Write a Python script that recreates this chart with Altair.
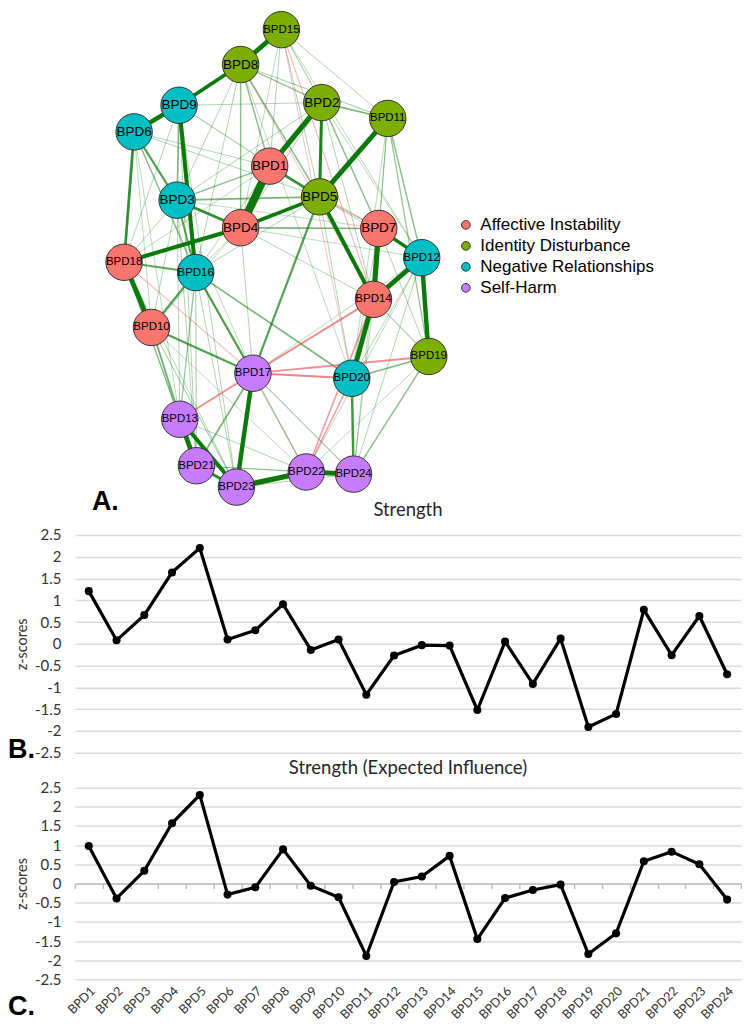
import altair as alt
import pandas as pd

# ---------------- data ----------------
nodes = ["BPD1", "BPD2", "BPD3", "BPD4", "BPD5", "BPD6", "BPD7", "BPD8",
         "BPD9", "BPD10", "BPD11", "BPD12", "BPD13", "BPD14", "BPD15", "BPD16",
         "BPD17", "BPD18", "BPD19", "BPD20", "BPD21", "BPD22", "BPD23", "BPD24"]

group_names = ["Affective Instability", "Identity Disturbance",
               "Negative Relationships", "Self-Harm"]
group_colors = ["#F8766D", "#7CAE00", "#00BFC4", "#C77CFF"]

node_group = ["Affective Instability", "Identity Disturbance", "Negative Relationships",
              "Affective Instability", "Identity Disturbance", "Negative Relationships",
              "Affective Instability", "Identity Disturbance", "Negative Relationships",
              "Affective Instability", "Identity Disturbance", "Negative Relationships",
              "Self-Harm", "Affective Instability", "Identity Disturbance",
              "Negative Relationships", "Self-Harm", "Affective Instability",
              "Identity Disturbance", "Negative Relationships", "Self-Harm",
              "Self-Harm", "Self-Harm", "Self-Harm"]

# network layout coordinates (qgraph-style, roughly -1..1)
layout_x = [-0.073, 0.275, -0.691, -0.267, 0.260, -0.978, 0.655, -0.267,
            -0.678, -0.862, 0.715, 0.942, -0.673, 0.620, 0.005, -0.567,
            -0.185, -1.045, 0.989, 0.475, -0.562, 0.171, -0.295, 0.487]
layout_y = [0.343, 0.608, 0.201, 0.086, 0.215, 0.486, 0.083, 0.767,
            0.597, -0.330, 0.542, -0.039, -0.713, -0.213, 0.9125, -0.101,
            -0.521, -0.058, -0.451, -0.542, -0.907, -0.933, -0.996, -0.942]

# edges (node numbers) and partial-correlation weights
edge_from = [1, 1, 8, 6, 8, 5, 4, 5, 7, 12, 12, 14, 9, 4, 10, 13, 13, 22, 22, 17, 7,
             2, 6, 3, 3, 16, 10, 16, 10, 5, 3, 4, 2, 1, 3, 21, 20, 19, 16, 19,
             1, 5, 4, 3, 6, 1, 2, 11, 11, 17, 10, 10, 13, 17, 17, 2,
             17, 14, 13, 17, 20, 14, 14, 15, 17, 8, 16, 5,
             6, 6, 9, 9, 3, 3, 15, 15, 15, 15, 15, 15, 8, 8, 8, 8, 2, 2, 2, 11,
             11, 11, 1, 1, 1, 4, 4, 4, 4, 5, 5, 5, 7, 7, 12, 12, 14, 14, 18, 18,
             18, 18, 18, 16, 16, 10, 10, 13, 21, 21, 23, 3, 3, 6, 9, 9, 17, 17,
             17, 10, 6, 19, 12, 7]
edge_to = [4, 2, 15, 9, 9, 11, 5, 14, 14, 14, 19, 20, 16, 18, 18, 21, 23, 23, 24, 23, 12,
           5, 18, 4, 6, 18, 16, 17, 17, 17, 5, 7, 11, 5, 16, 23, 24, 24, 20, 20,
           8, 8, 8, 9, 16, 3, 7, 12, 19, 21, 13, 21, 16, 22, 24, 8,
           20, 17, 17, 19, 22, 22, 15, 20, 18, 14, 22, 7,
           5, 1, 5, 2, 2, 7, 2, 5, 11, 4, 1, 12, 11, 3, 16, 20, 4, 14, 12, 7,
           14, 20, 7, 16, 18, 16, 10, 14, 12, 12, 20, 16, 20, 19, 20, 24, 19, 24, 3, 9,
           13, 21, 23, 21, 23, 23, 22, 22, 22, 24, 24, 21, 13, 13, 21, 23, 4, 3,
           12, 3, 10, 22, 22, 24]
edge_weight = [0.95, 0.60, 0.55, 0.50, 0.40, 0.55, 0.40, 0.45, 0.60, 0.55, 0.50, 0.55,
               0.45, 0.45, 0.55, 0.55, 0.45, 0.60, 0.55, 0.50, 0.35,
               0.32, 0.28, 0.28, 0.22, 0.20, 0.22, 0.22, 0.22, 0.22, 0.15, 0.15, 0.15,
               0.25, 0.20, 0.30, 0.25, 0.12, 0.15, 0.14,
               0.12, 0.13, 0.12, 0.15, 0.12, 0.12, 0.12, 0.12, 0.10, 0.15, 0.12, 0.10,
               0.10, 0.10, 0.08, 0.10,
               -0.20, -0.18, -0.18, -0.18, -0.14, -0.14, -0.08, -0.06, -0.07, -0.06,
               -0.05, -0.10,
               0.06, 0.06, 0.07, 0.06, 0.06, 0.05, 0.07, 0.06, 0.06, 0.05, 0.06, 0.05,
               0.07, 0.06, 0.06, 0.05, 0.06, 0.06, 0.05, 0.06,
               0.06, 0.05, 0.06, 0.06, 0.05, 0.06, 0.05, 0.06, 0.05, 0.06, 0.06, 0.06,
               0.05, 0.06, 0.06, 0.06, 0.07, 0.06, 0.06, 0.06,
               0.07, 0.07, 0.06, 0.07, 0.06, 0.07, 0.05, 0.06, 0.06, 0.05, 0.06, 0.06,
               0.06, 0.05, 0.06, 0.06, 0.06, 0.05,
               0.05, 0.06, 0.05, 0.05, 0.05, 0.05]

strength = [1.21, 0.08, 0.66, 1.64, 2.20, 0.10, 0.31, 0.91, -0.14, 0.10, -1.17, -0.27,
            -0.03, -0.04, -1.52, 0.05, -0.92, 0.12, -1.91, -1.61, 0.78, -0.26, 0.64, -0.70]
expected_influence = [0.98, -0.39, 0.33, 1.57, 2.31, -0.29, -0.10, 0.89, -0.06, -0.36,
                      -1.89, 0.04, 0.18, 0.72, -1.45, -0.38, -0.17, -0.03, -1.84, -1.30,
                      0.58, 0.83, 0.50, -0.42]

y_ticks = [-2.5, -2, -1.5, -1, -0.5, 0, 0.5, 1, 1.5, 2, 2.5]

# ---------------- tables ----------------
df_nodes = pd.DataFrame({"node": nodes, "group": node_group,
                         "lx": layout_x, "ly": layout_y})
df_edges = pd.DataFrame({"a": edge_from, "b": edge_to, "w": edge_weight})
df_edges["x1"] = [layout_x[i - 1] for i in df_edges["a"]]
df_edges["y1"] = [layout_y[i - 1] for i in df_edges["a"]]
df_edges["x2"] = [layout_x[i - 1] for i in df_edges["b"]]
df_edges["y2"] = [layout_y[i - 1] for i in df_edges["b"]]
df_edges["aw"] = df_edges["w"].abs()
df_edges["sign"] = ["pos" if v > 0 else "neg" for v in df_edges["w"]]
df_edges = df_edges.sort_values("aw").reset_index(drop=True)

df_str = pd.DataFrame({"node": nodes, "value": strength})
df_ei = pd.DataFrame({"node": nodes, "value": expected_influence})

PW = 667
NET_H = 491
STR_H = 218
EI_H = 192

# ---------------- network ----------------
xs = alt.Scale(domain=[-1.3733, 3.0733], nice=False, zero=False)
ys = alt.Scale(domain=[-1.05, 0.9958], nice=False, zero=False)

edges = alt.Chart(df_edges).mark_rule(strokeCap="butt").encode(
    x=alt.X("x1:Q", scale=xs, axis=None),
    y=alt.Y("y1:Q", scale=ys, axis=None),
    x2="x2:Q",
    y2="y2:Q",
    size=alt.Size("aw:Q", scale=alt.Scale(domain=[0.04, 0.95], range=[0.8, 8]), legend=None),
    color=alt.Color("sign:N", scale=alt.Scale(domain=["pos", "neg"],
                                              range=["#0b7a0b", "#e04848"]), legend=None),
    opacity=alt.Opacity("aw:Q", scale=alt.Scale(domain=[0.04, 0.35], range=[0.3, 1], clamp=True),
                        legend=None),
    order=alt.Order("aw:Q"),
)

node_marks = alt.Chart(df_nodes).mark_circle(size=1330, opacity=1, stroke="#333333",
                                             strokeWidth=1).encode(
    x=alt.X("lx:Q", scale=xs, axis=None),
    y=alt.Y("ly:Q", scale=ys, axis=None),
    color=alt.Color("group:N", scale=alt.Scale(domain=group_names, range=group_colors),
                    legend=alt.Legend(orient="none", legendX=383, legendY=207, title=None,
                                      labelFont="Liberation Sans", labelFontSize=17,
                                      labelColor="black", labelLimit=400,
                                      symbolType="circle",
                                      symbolSize=75, symbolStrokeColor="#333333",
                                      symbolStrokeWidth=1, symbolOpacity=1,
                                      rowPadding=3, labelOffset=6, padding=0)),
)

labels_short = alt.Chart(df_nodes).mark_text(font="Liberation Sans", fontSize=13.5,
                                             color="black").encode(
    x=alt.X("lx:Q", scale=xs, axis=None),
    y=alt.Y("ly:Q", scale=ys, axis=None),
    text="node:N",
).transform_filter("length(datum.node) == 4")

labels_long = alt.Chart(df_nodes).mark_text(font="Liberation Sans", fontSize=11.5,
                                            color="black").encode(
    x=alt.X("lx:Q", scale=xs, axis=None),
    y=alt.Y("ly:Q", scale=ys, axis=None),
    text="node:N",
).transform_filter("length(datum.node) == 5")


def panel_letter(txt, px, py):
    return alt.Chart(pd.DataFrame({"t": [txt]})).mark_text(
        font="Liberation Sans", fontSize=27, fontWeight="bold", align="left",
        baseline="alphabetic", color="black").encode(
        x=alt.value(px), y=alt.value(py), text="t:N")


net = alt.layer(edges, node_marks, labels_short, labels_long,
                panel_letter("A.", 17, 501)).resolve_scale(
    color="independent", size="independent", opacity="independent"
).properties(width=PW, height=NET_H)

# ---------------- line charts ----------------
y_enc = alt.Y("value:Q", scale=alt.Scale(domain=[-2.5, 2.5], nice=False, zero=False),
              axis=alt.Axis(values=y_ticks, labelExpr="datum.value + ''", grid=True,
                            gridColor="#d9d9d9", gridWidth=1.5, domain=False, ticks=False,
                            labelPadding=14, labelFont="Lato", labelFontSize=15,
                            labelColor="#333333", title="z-scores", titleFont="Lato",
                            titleFontSize=14.5, titleFontWeight="normal",
                            titleColor="#333333", titlePadding=5))

band = alt.Scale(type="band", paddingInner=0, paddingOuter=0)


def title_params(t, off):
    return alt.TitleParams(t, font="Lato", fontSize=18.5, fontWeight="normal",
                           color="#262626", anchor="middle", frame="group", offset=off)


str_x = alt.X("node:N", sort=nodes, scale=band, axis=None)
str_line = alt.Chart(df_str).mark_line(color="black", strokeWidth=3.2).encode(x=str_x, y=y_enc)
str_pts = alt.Chart(df_str).mark_point(filled=True, size=65, color="black",
                                       opacity=1).encode(x=str_x, y=y_enc)
str_chart = alt.layer(str_line, str_pts, panel_letter("B.", -67, 223)).properties(
    width=PW, height=STR_H, title=title_params("Strength", 8))

ei_x_labels = alt.X("node:N", sort=nodes, scale=band,
                    axis=alt.Axis(orient="bottom", labelAngle=-45, labelFont="Lato",
                                  labelFontSize=12.5, labelColor="#333333", domain=False,
                                  ticks=False, tickSize=0, labelPadding=5, title=None,
                                  grid=False))
ei_x_zero = alt.X("node:N", sort=nodes, scale=band,
                  axis=alt.Axis(orient="bottom", offset=-EI_H / 2, labels=False,
                                domain=True, domainColor="#bfbfbf", domainWidth=1.5,
                                ticks=True, tickColor="#bfbfbf", tickSize=5, tickWidth=1.5,
                                tickBand="extent", title=None, grid=False))
ei_line = alt.Chart(df_ei).mark_line(color="black", strokeWidth=3.2).encode(x=ei_x_labels,
                                                                            y=y_enc)
ei_pts = alt.Chart(df_ei).mark_point(filled=True, size=65, color="black",
                                     opacity=1).encode(x=ei_x_zero, y=y_enc)
ei_chart = alt.layer(ei_line, ei_pts, panel_letter("C.", -67, 228)).resolve_axis(
    x="independent").properties(width=PW, height=EI_H,
                                title=title_params("Strength (Expected Influence)", 3))

chart = alt.vconcat(net, str_chart, ei_chart, spacing=35, bounds="flush").properties(
    padding=0
).configure_view(stroke=None)

chart.save("out.html", embed_options={"renderer": "svg", "actions": False})
